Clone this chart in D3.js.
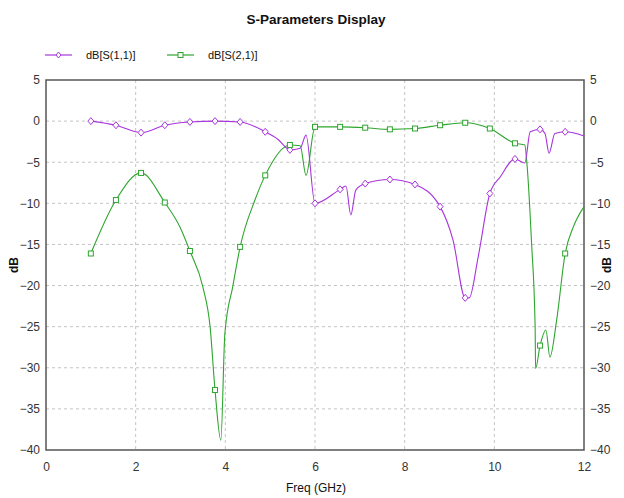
<!DOCTYPE html>
<html>
<head>
<meta charset="utf-8">
<script src="https://cdn.jsdelivr.net/npm/d3@7"></script>
<style>
  body { margin: 0; background: #fff; }
  text { font-family: "Liberation Sans", Arial, sans-serif; }
</style>
</head>
<body>
<script>
var width = 624,
    height = 498;

//plot area
var plotLeft = 46, plotRight = 584, plotTop = 80, plotBottom = 450;

//data
var s11Freq = [1.00, 1.56, 2.12, 2.65, 3.21, 3.77, 4.33, 4.89, 5.17, 5.44, 5.67, 5.80, 6.00, 6.56, 6.69, 6.80, 6.91, 7.12, 7.67, 8.23, 8.79, 9.08, 9.35, 9.44, 9.64, 9.90, 10.13, 10.46, 10.68, 10.80, 11.02, 11.13, 11.22, 11.35, 11.58, 12.00];
var s11dB   = [0.0, -0.5, -1.4, -0.5, -0.1, 0.0, -0.1, -1.3, -2.2, -3.5, -3.3, -1.7, -10.0, -8.3, -7.9, -11.4, -8.4, -7.6, -7.1, -7.7, -10.4, -14.5, -21.5, -21.5, -16.5, -8.8, -6.8, -4.6, -5.1, -1.3, -1.0, -1.5, -3.9, -1.5, -1.3, -1.8];

var s21Freq = [1.00, 1.56, 2.12, 2.65, 2.99, 3.21, 3.50, 3.66, 3.77, 3.90, 3.99, 4.17, 4.33, 4.66, 4.89, 5.44, 5.67, 5.80, 6.00, 6.56, 7.12, 7.67, 8.23, 8.79, 9.35, 9.90, 10.46, 10.68, 10.72, 10.83, 10.91, 10.92, 11.02, 11.15, 11.24, 11.39, 11.58, 11.76, 12.00];
var s21dB   = [-16.1, -9.6, -6.3, -9.9, -12.9, -15.8, -20.2, -25.0, -32.7, -38.8, -25.8, -20.0, -15.3, -9.6, -6.6, -2.9, -3.0, -6.6, -0.7, -0.7, -0.8, -1.0, -0.9, -0.5, -0.2, -0.9, -2.7, -2.9, -4.7, -14.8, -25.0, -30.1, -27.3, -25.4, -28.7, -24.2, -16.1, -12.9, -10.4];

//frequencies where the symbols sit (same for both traces)
var markerFreq = [1.00, 1.56, 2.12, 2.65, 3.21, 3.77, 4.33, 4.89, 5.44, 6.00, 6.56, 7.12, 7.67, 8.23, 8.79, 9.35, 9.90, 10.46, 11.02, 11.58];

var xTicks = [0, 2, 4, 6, 8, 10, 12];
var yTicks = [5, 0, -5, -10, -15, -20, -25, -30, -35, -40];

var purple = "#a834dc",
    green = "#2ea52e";

var svg = d3.select("body").append("svg")
    .attr("width", width)
    .attr("height", height);

svg.append("rect").attr("width", width).attr("height", height).attr("fill", "#fff");

var x = d3.scaleLinear().domain([0, 12]).range([plotLeft, plotRight]);
var y = d3.scaleLinear().domain([-40, 5]).range([plotBottom, plotTop]);

//grid
var grid = svg.append("g");
grid.selectAll(".vg").data(xTicks.slice(1, -1)).enter().append("line")
    .attr("x1", function(d) { return x(d); })
    .attr("x2", function(d) { return x(d); })
    .attr("y1", plotTop).attr("y2", plotBottom)
    .attr("stroke", "#c4c4c4").attr("stroke-dasharray", "3,3");
grid.selectAll(".hg").data(yTicks.slice(1, -1)).enter().append("line")
    .attr("y1", function(d) { return y(d); })
    .attr("y2", function(d) { return y(d); })
    .attr("x1", plotLeft).attr("x2", plotRight)
    .attr("stroke", "#c4c4c4").attr("stroke-dasharray", "3,3");

//axes
var axisStyle = function(g) {
    g.select(".domain").remove();
    g.selectAll(".tick line").remove();
    g.selectAll(".tick text").attr("font-size", "12px").attr("fill", "#333")
        .attr("font-family", "Liberation Sans, Arial, sans-serif");
};
svg.append("g").attr("transform", "translate(0," + plotBottom + ")")
    .call(d3.axisBottom(x).tickValues(xTicks).tickSize(0).tickPadding(12))
    .call(axisStyle);
svg.append("g").attr("transform", "translate(" + plotLeft + ",0)")
    .call(d3.axisLeft(y).tickValues(yTicks).tickSize(0).tickPadding(6))
    .call(axisStyle);
svg.append("g").attr("transform", "translate(" + plotRight + ",0)")
    .call(d3.axisRight(y).tickValues(yTicks).tickSize(0).tickPadding(6))
    .call(axisStyle);

//frame
svg.append("rect")
    .attr("x", plotLeft).attr("y", plotTop)
    .attr("width", plotRight - plotLeft).attr("height", plotBottom - plotTop)
    .attr("fill", "none").attr("stroke", "#555").attr("stroke-width", 1.5);

//curves
var line = d3.line()
    .x(function(d) { return x(d[0]); })
    .y(function(d) { return y(d[1]); })
    .curve(d3.curveMonotoneX);

var s11 = d3.zip(s11Freq, s11dB),
    s21 = d3.zip(s21Freq, s21dB);

svg.append("path").attr("d", line(s21)).attr("fill", "none")
    .attr("stroke", green).attr("stroke-width", 1.1);
svg.append("path").attr("d", line(s11)).attr("fill", "none")
    .attr("stroke", purple).attr("stroke-width", 1.1);

var isMarker = function(d) { return markerFreq.indexOf(d[0]) >= 0; };
var s11Marks = s11.filter(isMarker),
    s21Marks = s21.filter(isMarker);

var diamond = "M0,-3.5L3,0L0,3.5L-3,0Z";
svg.selectAll(".s11m").data(s11Marks).enter().append("path")
    .attr("d", diamond)
    .attr("transform", function(d) { return "translate(" + x(d[0]) + "," + y(d[1]) + ")"; })
    .attr("fill", "#fff").attr("stroke", purple).attr("stroke-width", 1);
svg.selectAll(".s21m").data(s21Marks).enter().append("rect")
    .attr("x", function(d) { return x(d[0]) - 2.5; })
    .attr("y", function(d) { return y(d[1]) - 2.5; })
    .attr("width", 5).attr("height", 5)
    .attr("fill", "#fff").attr("stroke", green).attr("stroke-width", 1);

//title
svg.append("text").attr("x", 316).attr("y", 24)
    .attr("text-anchor", "middle").attr("font-size", "13.5px").attr("font-weight", "bold")
    .attr("fill", "#111").text("S-Parameters Display");

//legend
var legend = [{name: "dB[S(1,1)]", color: purple, x: 45, shape: "d"},
              {name: "dB[S(2,1)]", color: green, x: 167, shape: "s"}];
legend.forEach(function(l) {
    var g = svg.append("g").attr("transform", "translate(" + l.x + ",55)");
    g.append("line").attr("x1", 0).attr("x2", 27).attr("stroke", l.color).attr("stroke-width", 1.2);
    if (l.shape == "d")
        g.append("path").attr("d", "M0,-3L2.5,0L0,3L-2.5,0Z").attr("transform", "translate(13.5,0)")
            .attr("fill", "#fff").attr("stroke", l.color);
    else
        g.append("rect").attr("x", 11).attr("y", -2.5).attr("width", 5).attr("height", 5)
            .attr("fill", "#fff").attr("stroke", l.color);
    g.append("text").attr("x", 41).attr("y", 4).attr("font-size", "11px").attr("fill", "#111").text(l.name);
});

//axis titles
svg.append("text").attr("x", 316).attr("y", 492).attr("text-anchor", "middle")
    .attr("font-size", "12px").attr("fill", "#111").text("Freq (GHz)");
svg.append("text").attr("transform", "translate(18,265) rotate(-90)").attr("text-anchor", "middle")
    .attr("font-size", "12px").attr("font-weight", "bold").attr("fill", "#111").text("dB");
svg.append("text").attr("transform", "translate(611,265) rotate(-90)").attr("text-anchor", "middle")
    .attr("font-size", "12px").attr("font-weight", "bold").attr("fill", "#111").text("dB");
</script>
</body>
</html>
